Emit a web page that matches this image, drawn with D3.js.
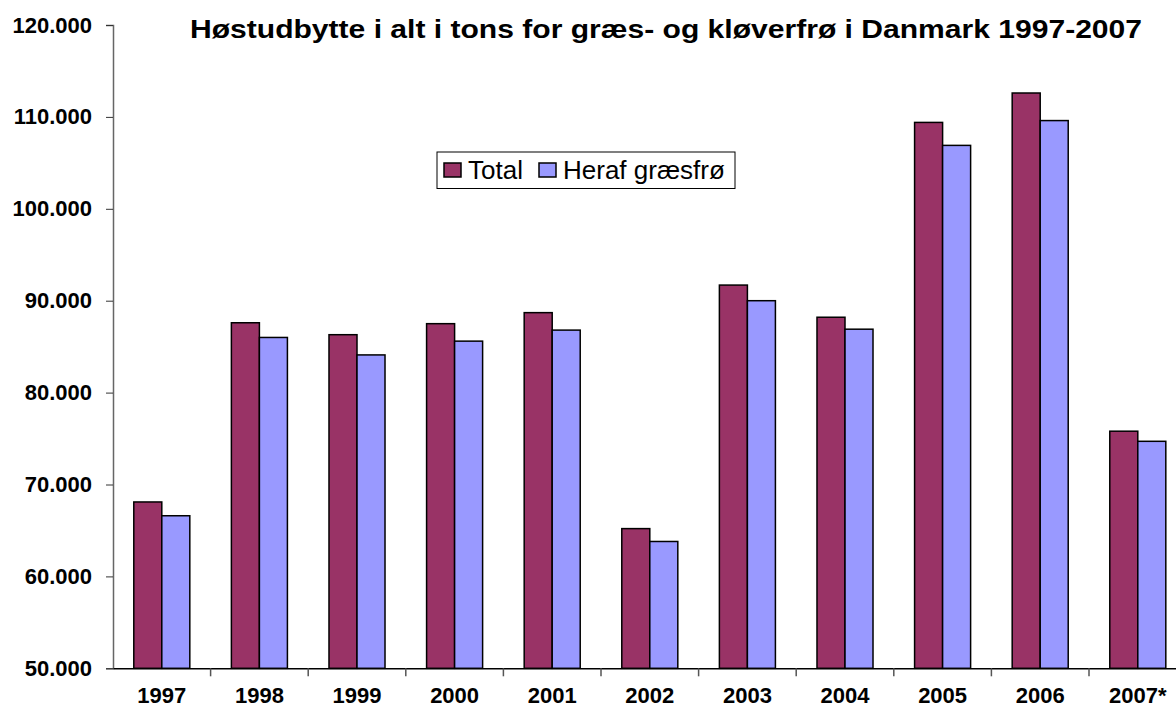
<!DOCTYPE html>
<html>
<head>
<meta charset="utf-8">
<script src="https://cdn.jsdelivr.net/npm/d3@7"></script>
<style>
  body { margin: 0; background: #fff; }
  svg { display: block; font-family: "Liberation Sans", Arial, sans-serif; }
</style>
</head>
<body>
<svg id="chart" width="1176" height="713"></svg>
<script>
const years = ["1997", "1998", "1999", "2000", "2001", "2002", "2003", "2004", "2005", "2006", "2007*"];
const total = [68100, 87600, 86300, 87500, 88700, 65200, 91700, 88200, 109400, 112600, 75800];
const grassSeed = [66600, 86000, 84100, 85600, 86800, 63800, 90000, 86900, 106900, 109600, 74700];
const seriesNames = ["Total", "Heraf græsfrø"];
const seriesColors = ["#993366", "#9999FF"];
const yTicks = [50000, 60000, 70000, 80000, 90000, 100000, 110000, 120000];

const svg = d3.select("#chart");

const plotLeft = 113, plotTop = 25, plotBottom = 668.3,
    catWidth = 97.6,
    plotRight = plotLeft + catWidth * years.length;

const x = d3.scaleBand()
    .domain(years)
    .range([plotLeft, plotRight]);

// the pair of bars sits in the middle of each category
const groupWidth = x.bandwidth() * 0.574;
const xPerCase = d3.scaleBand()
    .domain(seriesNames)
    .range([(x.bandwidth() - groupWidth) / 2, (x.bandwidth() + groupWidth) / 2]);

const y = d3.scaleLinear()
    .domain([50000, 120000])
    .range([plotBottom, plotTop]);

const fmt = v => d3.format(",")(v).replace(/,/g, ".");

const rows = years.map((year, i) => ({ year, values: [total[i], grassSeed[i]] }));

// bars
const groups = svg.append("g")
    .selectAll("g")
    .data(rows)
    .enter().append("g")
    .attr("transform", d => `translate(${x(d.year)},0)`);

groups.selectAll("rect")
    .data(d => d.values.map((v, i) => ({ name: seriesNames[i], color: seriesColors[i], value: v })))
    .enter().append("rect")
    .attr("x", d => xPerCase(d.name))
    .attr("y", d => y(d.value))
    .attr("width", xPerCase.bandwidth())
    .attr("height", d => y(50000) - y(d.value))
    .attr("fill", d => d.color)
    .attr("stroke", "#000")
    .attr("stroke-width", 1.5);

// y axis
const yAxis = svg.append("g")
    .attr("transform", `translate(${plotLeft},0)`)
    .call(d3.axisLeft(y).tickValues(yTicks).tickFormat(fmt).tickSize(7).tickPadding(14));
yAxis.select(".domain").attr("stroke", "#666").attr("stroke-width", 1.5);
yAxis.selectAll(".tick line").attr("stroke", "#333");
yAxis.selectAll(".tick text")
    .attr("font-family", "'Liberation Sans', Arial, sans-serif")
    .attr("font-size", 22)
    .attr("font-weight", "bold")
    .attr("fill", "#000");

// x axis: line plus tick marks between categories
const xAxis = svg.append("g")
    .attr("transform", `translate(0,${plotBottom})`)
    .call(d3.axisBottom(x).tickSize(0).tickPadding(0));
xAxis.select(".domain").attr("stroke", "#000").attr("stroke-width", 1.5);
xAxis.selectAll(".tick text")
    .attr("y", 35)
    .attr("dy", 0)
    .attr("font-family", "'Liberation Sans', Arial, sans-serif")
    .attr("font-size", 22)
    .attr("font-weight", "bold")
    .attr("fill", "#000");

xAxis.selectAll(".sep")
    .data(years.slice(1))
    .enter().append("line")
    .attr("x1", d => x(d))
    .attr("x2", d => x(d))
    .attr("y1", 0)
    .attr("y2", 8)
    .attr("stroke", "#555")
    .attr("stroke-width", 1.5);

// title (the original is drawn a bit wide, so stretch it to the same length)
svg.append("text")
    .attr("x", 190)
    .attr("y", 38)
    .attr("font-size", 26)
    .attr("font-weight", "bold")
    .attr("textLength", 952)
    .attr("lengthAdjust", "spacingAndGlyphs")
    .text("Høstudbytte i alt i tons for græs- og kløverfrø i Danmark 1997-2007");

// legend
const legend = svg.append("g").attr("transform", "translate(437,152)");
legend.append("rect")
    .attr("width", 298)
    .attr("height", 36.5)
    .attr("fill", "#fff")
    .attr("stroke", "#000")
    .attr("stroke-width", 1);

const legendX = [7, 102];
const items = legend.selectAll("g.item")
    .data(seriesNames)
    .enter().append("g")
    .attr("class", "item")
    .attr("transform", (d, i) => `translate(${legendX[i]},0)`);
items.append("rect")
    .attr("y", 11)
    .attr("width", 17)
    .attr("height", 14)
    .attr("fill", (d, i) => seriesColors[i])
    .attr("stroke", "#000")
    .attr("stroke-width", 1.5);
items.append("text")
    .attr("x", 24)
    .attr("y", 27)
    .attr("font-size", 26)
    .text(d => d);
</script>
</body>
</html>
